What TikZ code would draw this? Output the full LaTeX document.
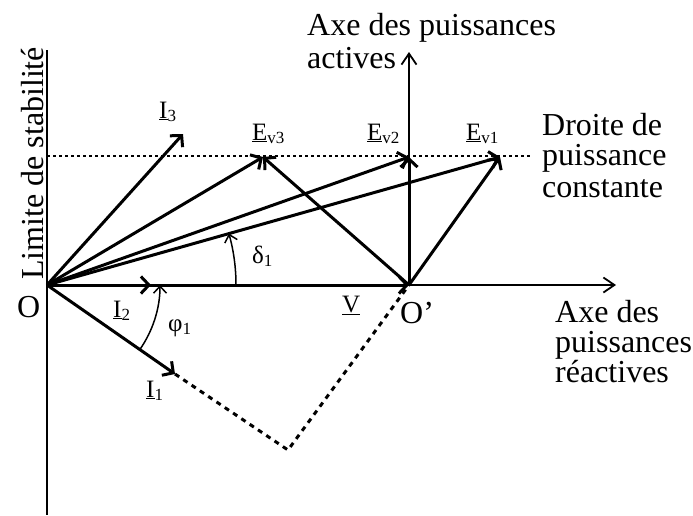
\documentclass[tikz,border=0pt]{standalone}
\usepackage{fontspec}
\setmainfont{Liberation Serif}
\usetikzlibrary{arrows.meta}
\newcommand\ulab[2]{\underline{#1}\raisebox{-3pt}{\fontsize{17}{17}\selectfont #2}}
\newcommand\glab[2]{#1\raisebox{-3pt}{\fontsize{17}{17}\selectfont #2}}
\begin{document}
\begin{tikzpicture}[x=1pt,y=-1pt,
  big/.style={font=\fontsize{32}{32}\selectfont, inner sep=0pt, anchor=base west},
  lab/.style={font=\fontsize{25}{25}\selectfont, inner sep=0pt, anchor=base west},
  vec/.style={line width=3pt, -{Straight Barb[length=8pt,width=17pt,line width=3pt]}},
  axis/.style={line width=1.8pt, -{Straight Barb[length=11pt,width=15pt,line width=1.8pt]}},
  plainaxis/.style={line width=1.8pt},
  anglearc/.style={line width=1.5pt, -{Straight Barb[length=7pt,width=13pt,line width=1.5pt]}},
  dotline/.style={line width=1.8pt, dash pattern=on 3pt off 3pt},
  dashline/.style={line width=3pt, dash pattern=on 5pt off 5pt}]
\fill[white] (0,0) rectangle (693,515);
\useasboundingbox (0,0) rectangle (693,515);
% points
\coordinate (O) at (47,285);
\coordinate (Op) at (409,285);
\coordinate (Ltop) at (47,50);
\coordinate (Lbot) at (47,515);
\coordinate (Hend) at (616,285);
\coordinate (Vend) at (409,52);
\coordinate (Dl) at (47,156);
\coordinate (Dr) at (530,156);
\coordinate (I3) at (183,134);
\coordinate (E3) at (263,157);
\coordinate (E2) at (409,157);
\coordinate (E1) at (500,157);
\coordinate (I2) at (151,285);
\coordinate (I1) at (175,374);
\coordinate (B) at (288,450);
% axes
\draw[plainaxis] (Ltop) -- (Lbot);
\draw[axis] (O) -- (Hend);
\draw[axis] (Op) -- (Vend);
\draw[dotline] (Dl) -- (Dr);
% dashed construction
\draw[dashline] (I1) -- (B) -- (Op);
% vectors
\draw[vec] (O) -- (Op);
\draw[vec] (O) -- (I2);
\draw[vec] (O) -- (I1);
\draw[vec] (O) -- (I3);
\draw[vec] (O) -- (E3);
\draw[vec] (O) -- (E2);
\draw[vec] (O) -- (E1);
\draw[vec] (Op) -- (E3);
\draw[vec] (Op) -- (E2);
\draw[vec] (Op) -- (E1);
% angle arcs
\draw[anglearc] (236,285) arc[start angle=0, end angle=-15.8, radius=189];
\draw[anglearc] (139.8,349.6) arc[start angle=34.8, end angle=0, radius=113];
% labels
\node[lab] (lI3) at (159,118) {\ulab{I}{3}};
\node[lab] (lE3) at (252,140) {\ulab{E}{v3}};
\node[lab] (lE2) at (367,140) {\ulab{E}{v2}};
\node[lab] (lE1) at (466,140) {\ulab{E}{v1}};
\node[lab] (lI2) at (113,317) {\ulab{I}{2}};
\node[lab] (lI1) at (146,397) {\ulab{I}{1}};
\node[lab] (lV) at (342,312) {\underline{V}};
\node[lab] (ld) at (252,263) {\glab{δ}{1}};
\node[lab] (lp) at (168,331) {\glab{φ}{1}};
\node[big] (lO) at (17,317) {O};
\node[big] (lOp) at (400,323) {O’};
\node[big] (a1) at (307,35) {Axe des puissances};
\node[big] (a2) at (307,68) {actives};
\node[big] (d1) at (542,135) {Droite de};
\node[big] (d2) at (542,165) {puissance};
\node[big] (d3) at (542,197) {constante};
\node[big] (r1) at (555,322) {Axe des};
\node[big] (r2) at (555,352) {puissances};
\node[big] (r3) at (555,382) {réactives};
\node[big, rotate=90] (lim) at (43,280) {Limite de stabilité};
\end{tikzpicture}
\end{document}
